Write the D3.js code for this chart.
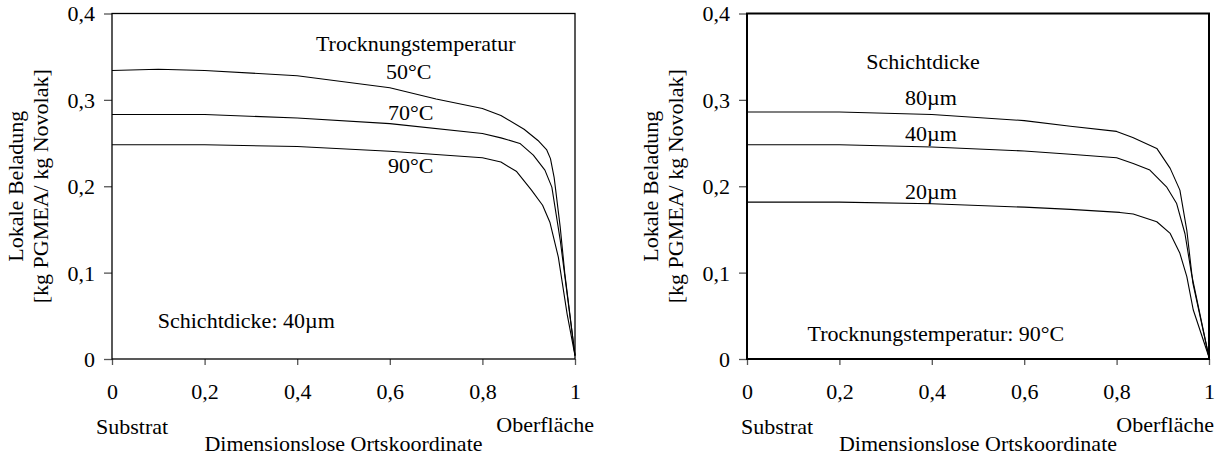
<!DOCTYPE html>
<html>
<head>
<meta charset="utf-8">
<script src="https://cdn.jsdelivr.net/npm/d3@7"></script>
<style>
  body { margin: 0; background: #fff; }
  svg text { font-family: "Liberation Serif", "Times New Roman", serif; fill: #000; }
</style>
</head>
<body>
<div id="chart"></div>
<script>
// Tick values of both panels
const xTicks = [0, 0.2, 0.4, 0.6, 0.8, 1];
const yTicks = [0, 0.1, 0.2, 0.3, 0.4];

// Left panel: drying temperature, layer 40µm
const t50x = [0, 0.1, 0.2, 0.4, 0.6, 0.7, 0.8, 0.84, 0.89, 0.92, 0.939, 0.947, 0.955, 0.968, 0.978, 1];
const t50y = [0.334, 0.3355, 0.334, 0.328, 0.314, 0.301, 0.29, 0.282, 0.266, 0.253, 0.242, 0.232, 0.21, 0.153, 0.099, 0.004];
const t70x = [0, 0.2, 0.4, 0.6, 0.8, 0.84, 0.881, 0.91, 0.935, 0.95, 0.968, 1];
const t70y = [0.283, 0.283, 0.279, 0.2725, 0.261, 0.256, 0.2496, 0.236, 0.2187, 0.199, 0.138, 0.004];
const t90x = [0, 0.2, 0.4, 0.6, 0.8, 0.84, 0.874, 0.906, 0.93, 0.946, 0.964, 0.983, 1];
const t90y = [0.248, 0.248, 0.246, 0.2405, 0.233, 0.228, 0.217, 0.1955, 0.178, 0.158, 0.118, 0.052, 0.004];

// Right panel: layer thickness, 90°C
const d80x = [0, 0.2, 0.4, 0.6, 0.7, 0.8, 0.835, 0.887, 0.916, 0.937, 0.952, 0.965, 1];
const d80y = [0.286, 0.286, 0.283, 0.276, 0.2694, 0.2635, 0.2565, 0.2438, 0.2207, 0.1955, 0.149, 0.088, 0.002];
const d40x = [0, 0.2, 0.4, 0.6, 0.7, 0.8, 0.836, 0.872, 0.908, 0.93, 0.948, 0.962, 1];
const d40y = [0.248, 0.248, 0.2454, 0.2408, 0.237, 0.233, 0.2264, 0.2187, 0.1994, 0.18, 0.145, 0.099, 0.002];
const d20x = [0, 0.2, 0.4, 0.6, 0.7, 0.807, 0.836, 0.887, 0.916, 0.937, 0.952, 0.966, 1];
const d20y = [0.1816, 0.1816, 0.1797, 0.1758, 0.1732, 0.1697, 0.1678, 0.1589, 0.1454, 0.1223, 0.0953, 0.0567, 0.002];

const zip = (xs, ys) => xs.map((x, i) => [x, ys[i]]);

const panels = [
  {
    left: 112, right: 575, frame: 1.3,
    series: [zip(t50x, t50y), zip(t70x, t70y), zip(t90x, t90y)],
    labels: [
      { t: "Trocknungstemperatur", x: 0.656, y: 0.3565 },
      { t: "50°C", x: 0.641, y: 0.3245 },
      { t: "70°C", x: 0.645, y: 0.2765 },
      { t: "90°C", x: 0.645, y: 0.2155 },
      { t: "Schichtdicke: 40µm", x: 0.29, y: 0.036 }
    ],
    subX: -16, oberX: 19
  },
  {
    left: 747, right: 1209, frame: 2,
    series: [zip(d80x, d80y), zip(d40x, d40y), zip(d20x, d20y)],
    labels: [
      { t: "Schichtdicke", x: 0.381, y: 0.3361 },
      { t: "80µm", x: 0.398, y: 0.2945 },
      { t: "40µm", x: 0.398, y: 0.2528 },
      { t: "20µm", x: 0.398, y: 0.1857 },
      { t: "Trocknungstemperatur: 90°C", x: 0.409, y: 0.0214 }
    ],
    subX: -6, oberX: 5
  }
];

const plotTop = 13.5, plotBottom = 359, fs = 22;
const fmt = d => d3.format(".1f")(d).replace(".", ",").replace(/^0,0$/, "0").replace(/^1,0$/, "1");

const svg = d3.select("#chart").append("svg")
  .attr("width", 1216).attr("height", 461);

panels.forEach(p => {
  const x = d3.scaleLinear().domain([0, 1]).range([p.left, p.right]);
  const y = d3.scaleLinear().domain([0, 0.4]).range([plotBottom, plotTop]);
  const g = svg.append("g");

  // y axis ticks
  const ya = g.append("g").attr("transform", `translate(${p.left},0)`)
    .call(d3.axisLeft(y).tickValues(yTicks).tickFormat(fmt).tickSize(8).tickPadding(9).tickSizeOuter(0));
  ya.select(".domain").remove();
  ya.selectAll("line").attr("stroke", "#555").attr("stroke-width", 1.3);
  ya.selectAll("text").attr("font-size", fs).attr("font-family", null).attr("dy", "0.34em");

  // x axis ticks
  const xa = g.append("g").attr("transform", `translate(0,${plotBottom})`)
    .call(d3.axisBottom(x).tickValues(xTicks).tickFormat(fmt).tickSize(6).tickPadding(18).tickSizeOuter(0));
  xa.select(".domain").remove();
  xa.selectAll("line").attr("stroke", "#555").attr("stroke-width", 1.3);
  xa.selectAll("text").attr("font-size", fs).attr("font-family", null);

  // frame
  g.append("rect")
    .attr("x", p.left).attr("y", plotTop)
    .attr("width", p.right - p.left).attr("height", plotBottom - plotTop)
    .attr("fill", "none").attr("stroke", "#000").attr("stroke-width", p.frame);

  // curves
  const line = d3.line().x(d => x(d[0])).y(d => y(d[1]));
  g.selectAll("path.curve").data(p.series).enter().append("path")
    .attr("class", "curve")
    .attr("d", line)
    .attr("fill", "none").attr("stroke", "#000").attr("stroke-width", 1.1)
    .attr("stroke-linejoin", "round");

  // annotations
  g.selectAll("text.ann").data(p.labels).enter().append("text")
    .attr("class", "ann")
    .attr("x", d => x(d.x)).attr("y", d => y(d.y))
    .attr("text-anchor", "middle").attr("font-size", fs)
    .text(d => d.t);

  // axis titles
  g.append("text").attr("x", p.left + p.subX).attr("y", 434)
    .attr("font-size", fs).text("Substrat");
  g.append("text").attr("x", p.right + p.oberX).attr("y", 432)
    .attr("text-anchor", "end").attr("font-size", fs).text("Oberfläche");
  g.append("text").attr("x", (p.left + p.right) / 2).attr("y", 451)
    .attr("text-anchor", "middle").attr("font-size", fs).text("Dimensionslose Ortskoordinate");

  const yt = g.append("text")
    .attr("transform", `translate(${p.left - 89},${(plotTop + plotBottom) / 2}) rotate(-90)`)
    .attr("text-anchor", "middle").attr("font-size", fs);
  yt.append("tspan").attr("x", 0).attr("y", 0).text("Lokale Beladung");
  yt.append("tspan").attr("x", 0).attr("y", 25).text("[kg PGMEA/ kg Novolak]");
});
</script>
</body>
</html>
